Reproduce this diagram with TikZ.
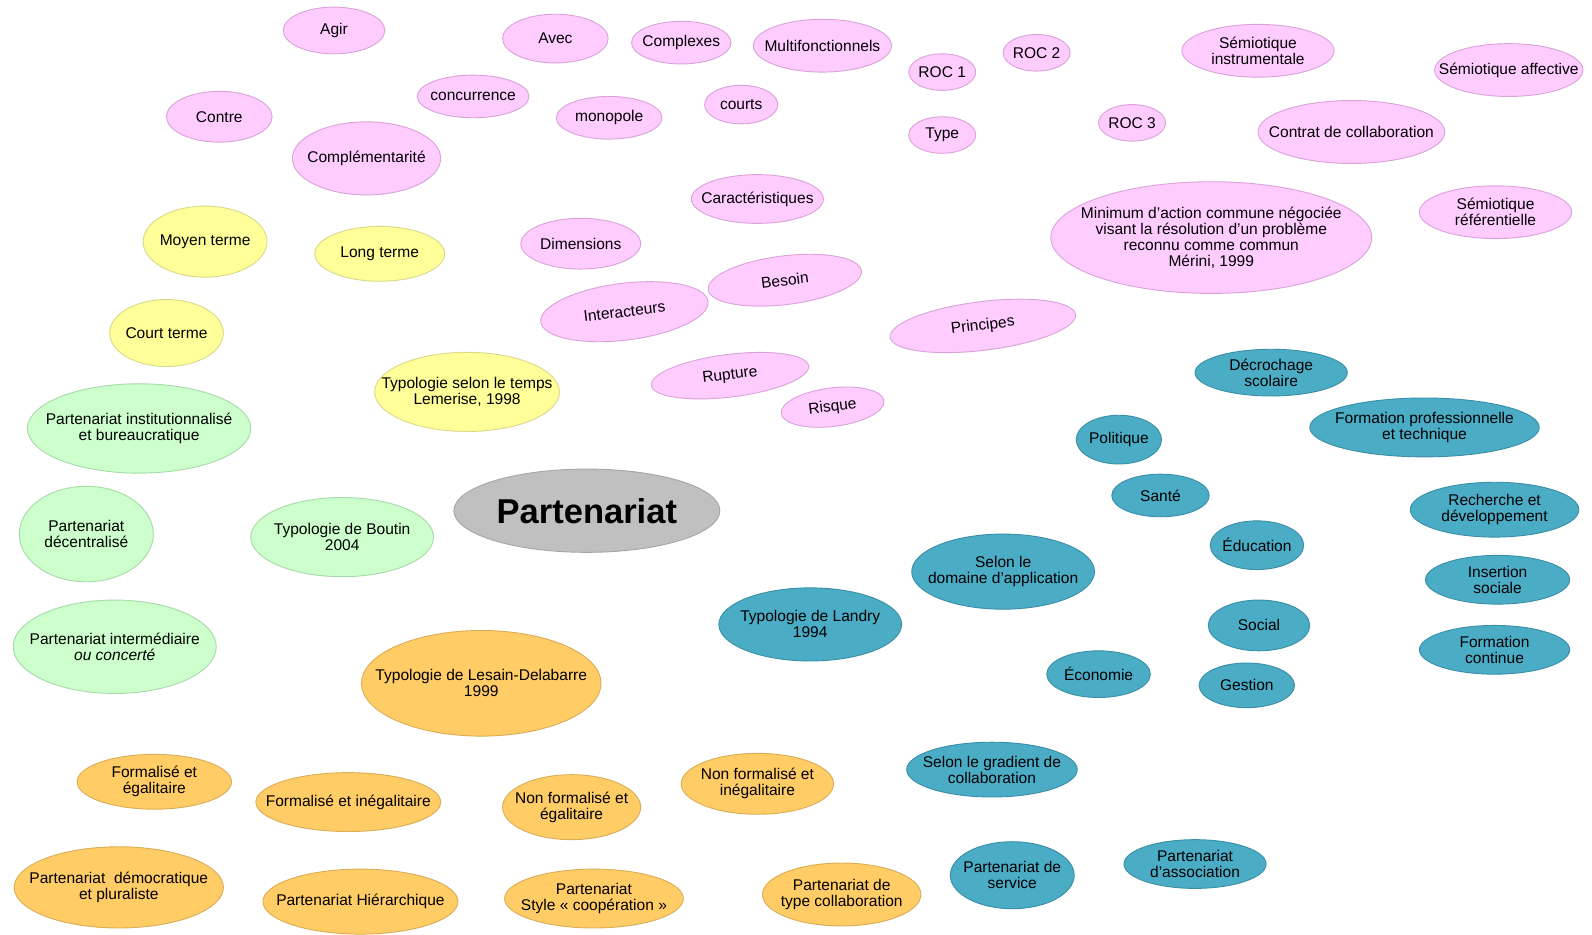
\documentclass[tikz,border=0pt]{standalone}
\usepackage{fontspec}
\setmainfont{Liberation Sans}
\usetikzlibrary{shapes.geometric}
\definecolor{pinkF}{HTML}{FFCCFF}
\definecolor{pinkD}{HTML}{D9A3D9}
\definecolor{yelF}{HTML}{FFFF99}
\definecolor{yelD}{HTML}{D9D98C}
\definecolor{grnF}{HTML}{CCFFCC}
\definecolor{grnD}{HTML}{A8D9A8}
\definecolor{orF}{HTML}{FFCC66}
\definecolor{orD}{HTML}{D9AD57}
\definecolor{tealF}{HTML}{4BACC6}
\definecolor{tealD}{HTML}{3A8FA6}
\definecolor{grayF}{HTML}{C0C0C0}
\definecolor{grayD}{HTML}{A6A6A6}
\tikzset{
  bubble/.style={ellipse,inner sep=0pt,line width=0.9pt},
  pinkb/.style={fill=pinkF,draw=pinkD},
  yelb/.style={fill=yelF,draw=yelD},
  grnb/.style={fill=grnF,draw=grnD},
  orb/.style={fill=orF,draw=orD},
  tealb/.style={fill=tealF,draw=tealD},
  grayb/.style={fill=grayF,draw=grayD},
  lbl/.style={align=center,inner sep=0pt,font=\fontsize{15.3}{15.8}\selectfont,text=black}
}
\newcommand\bub[8]{%
  \node[bubble,#2,minimum width=#5pt,minimum height=#6pt,rotate=#7] (#1) at (#3,#4) {};
  \node[lbl,rotate=#7] (#1-t) at (#1.center) {#8};}
\begin{document}
\begin{tikzpicture}[x=1pt,y=-1pt]
\useasboundingbox[fill=white] (0,0) rectangle (1568,920);
% pink
\bub{agir}{pinkb}{329}{30}{100}{46}{0}{Agir}
\bub{avec}{pinkb}{547}{38}{104}{48}{0}{Avec}
\bub{complexes}{pinkb}{671}{42}{98}{42}{0}{Complexes}
\bub{multi}{pinkb}{810}{45}{136}{52}{0}{Multifonctionnels}
\bub{roc1}{pinkb}{928}{71}{66}{36}{0}{ROC 1}
\bub{roc2}{pinkb}{1021}{52}{66}{36}{0}{ROC 2}
\bub{semi}{pinkb}{1239}{50}{150}{52}{0}{Sémiotique\\instrumentale}
\bub{sema}{pinkb}{1486}{69}{146}{52}{0}{Sémiotique affective}
\bub{contre}{pinkb}{216}{115}{104}{50}{0}{Contre}
\bub{conc}{pinkb}{466}{95}{110}{42}{0}{concurrence}
\bub{mono}{pinkb}{600}{116}{104}{42}{0}{monopole}
\bub{courts}{pinkb}{730}{103}{72}{38}{0}{courts}
\bub{type}{pinkb}{928}{133}{66}{36}{0}{Type}
\bub{roc3}{pinkb}{1115}{121}{66}{36}{0}{ROC 3}
\bub{contrat}{pinkb}{1331}{130}{184}{62}{0}{Contrat de collaboration}
\bub{compl}{pinkb}{361}{156}{146}{72}{0}{Complémentarité}
\bub{carac}{pinkb}{746}{196}{130}{48}{0}{Caractéristiques}
\bub{mini}{pinkb}{1193}{234}{316}{110}{0}{Minimum d’action commune négociée\\visant la résolution d’un problème\\reconnu comme commun\\Mérini, 1999}
\bub{semr}{pinkb}{1473}{209}{150}{52}{0}{Sémiotique\\référentielle}
\bub{dims}{pinkb}{572}{240}{118}{50}{0}{Dimensions}
\bub{besoin}{pinkb}{773}{276}{152}{48}{7}{Besoin}
\bub{inter}{pinkb}{615}{307}{166}{56}{7}{Interacteurs}
\bub{princ}{pinkb}{968}{321}{184}{48}{7}{Principes}
\bub{rupt}{pinkb}{719}{370}{156}{42}{7}{Rupture}
\bub{risque}{pinkb}{820}{401}{102}{38}{7}{Risque}
% yellow
\bub{moyen}{yelb}{202}{238}{122}{70}{0}{Moyen terme}
\bub{long}{yelb}{374}{250}{128}{54}{0}{Long terme}
\bub{court}{yelb}{164}{328}{112}{66}{0}{Court terme}
\bub{temps}{yelb}{460}{386}{182}{78}{0}{Typologie selon le temps\\Lemerise, 1998}
% green
\bub{inst}{grnb}{137}{422}{220}{88}{0}{Partenariat institutionnalisé\\et bureaucratique}
\bub{dec}{grnb}{85}{526}{132}{94}{0}{Partenariat\\décentralisé}
\bub{boutin}{grnb}{337}{529}{180}{78}{0}{Typologie de Boutin\\2004}
\bub{interm}{grnb}{113}{637}{200}{92}{0}{Partenariat intermédiaire\\\textit{ou concerté}}
% gray
\node[bubble,grayb,minimum width=262pt,minimum height=82pt] (part) at (578,503) {};
\node[inner sep=0pt,font=\fontsize{34}{38}\selectfont\bfseries] (part-t) at (part.center) {Partenariat};
% orange
\bub{lesain}{orb}{474}{673}{236}{104}{0}{Typologie de Lesain-Delabarre\\1999}
\bub{fe}{orb}{152}{770}{152}{54}{0}{Formalisé et\\égalitaire}
\bub{fi}{orb}{343}{790}{182}{58}{0}{Formalisé et inégalitaire}
\bub{nfe}{orb}{563}{795}{136}{64}{0}{Non formalisé et\\égalitaire}
\bub{nfi}{orb}{746}{772}{150}{60}{0}{Non formalisé et\\inégalitaire}
\bub{demo}{orb}{117}{874}{206}{80}{0}{Partenariat\ \ démocratique\\et pluraliste}
\bub{hier}{orb}{355}{888}{192}{64}{0}{Partenariat Hiérarchique}
\bub{coop}{orb}{585}{885}{176}{58}{0}{Partenariat\\Style « coopération »}
\bub{tcol}{orb}{829}{881}{156}{62}{0}{Partenariat de\\type collaboration}
% teal
\bub{decro}{tealb}{1252}{367}{150}{46}{0}{Décrochage\\scolaire}
\bub{poli}{tealb}{1102}{433}{84}{48}{0}{Politique}
\bub{fpro}{tealb}{1403}{421}{226}{58}{0}{Formation professionnelle\\et technique}
\bub{sante}{tealb}{1143}{488}{96}{42}{0}{Santé}
\bub{rech}{tealb}{1472}{502}{166}{54}{0}{Recherche et\\développement}
\bub{educ}{tealb}{1238}{537}{92}{48}{0}{Éducation}
\bub{domaine}{tealb}{988}{563}{180}{74}{0}{Selon le\\domaine d’application}
\bub{insert}{tealb}{1475}{571}{142}{48}{0}{Insertion\\sociale}
\bub{landry}{tealb}{798}{615}{180}{72}{0}{Typologie de Landry\\1994}
\bub{social}{tealb}{1240}{616}{100}{50}{0}{Social}
\bub{fcont}{tealb}{1472}{640}{148}{48}{0}{Formation\\continue}
\bub{eco}{tealb}{1082}{664}{102}{46}{0}{Économie}
\bub{gest}{tealb}{1228}{675}{94}{44}{0}{Gestion}
\bub{grad}{tealb}{977}{758}{168}{54}{0}{Selon le gradient de\\collaboration}
\bub{serv}{tealb}{997}{862}{122}{66}{0}{Partenariat de\\service}
\bub{assoc}{tealb}{1177}{851}{140}{48}{0}{Partenariat\\d’association}
\end{tikzpicture}
\end{document}
